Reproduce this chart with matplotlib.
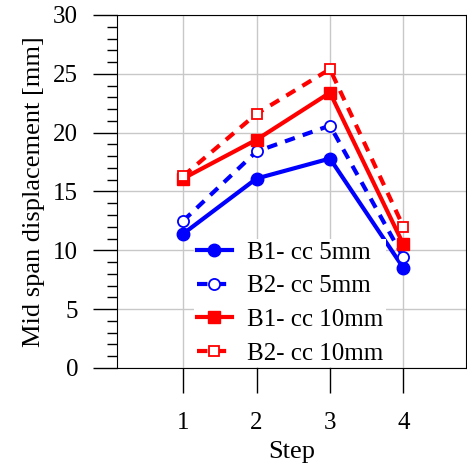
import matplotlib.pyplot as plt
from matplotlib.ticker import MultipleLocator

plt.rcParams['font.family'] = ['Liberation Serif', 'DejaVu Serif']

steps = [1, 2, 3, 4]
b1_cc5 = [11.4, 16.1, 17.8, 8.5]
b2_cc5 = [12.5, 18.4, 20.6, 9.4]
b1_cc10 = [16.1, 19.4, 23.4, 10.5]
b2_cc10 = [16.3, 21.6, 25.4, 12.0]

fig = plt.figure(figsize=(4.67, 4.68), dpi=100)
ax = fig.add_axes([0.2505, 0.2137, 0.747, 0.7543])

ax.plot(steps, b1_cc5, color='#0000ff', lw=3, marker='o', ms=9,
        label='B1- cc 5mm')
ax.plot(steps, b2_cc5, color='#0000ff', lw=3, ls=(0, (2.5, 2)), marker='o', ms=8,
        mfc='white', mew=1.3, label='B2- cc 5mm')
ax.plot(steps, b1_cc10, color='#ff0000', lw=3, marker='s', ms=9,
        label='B1- cc 10mm')
ax.plot(steps, b2_cc10, color='#ff0000', lw=3, ls=(0, (2.5, 2)), marker='s', ms=7,
        mfc='white', mew=1.3, label='B2- cc 10mm')

ax.set_xlim(0.1, 4.85)
ax.set_ylim(0, 30)
ax.set_xticks(steps)
ax.yaxis.set_major_locator(MultipleLocator(5))
ax.yaxis.set_minor_locator(MultipleLocator(1))
ax.grid(True, color='#c8c8c8', lw=1)
ax.set_axisbelow(True)
ax.tick_params(axis='both', which='major', direction='out', length=17, width=1,
               labelsize=18, pad=11)
ax.tick_params(axis='y', which='minor', direction='out', length=7, width=1)
ax.tick_params(axis='x', which='major', length=18, pad=14)
ax.set_xlabel('Step', fontsize=19, labelpad=5)
ax.set_ylabel('Mid span displacement [mm]', fontsize=19, labelpad=6)

leg = ax.legend(loc='lower left', bbox_to_anchor=(0.215, -0.005), fontsize=18,
                frameon=True, framealpha=1, edgecolor='none', fancybox=False,
                handlelength=1.4, handletextpad=0.6, labelspacing=0.45,
                borderpad=0.1, borderaxespad=0.1)

fig.savefig('out.png', dpi=100)
